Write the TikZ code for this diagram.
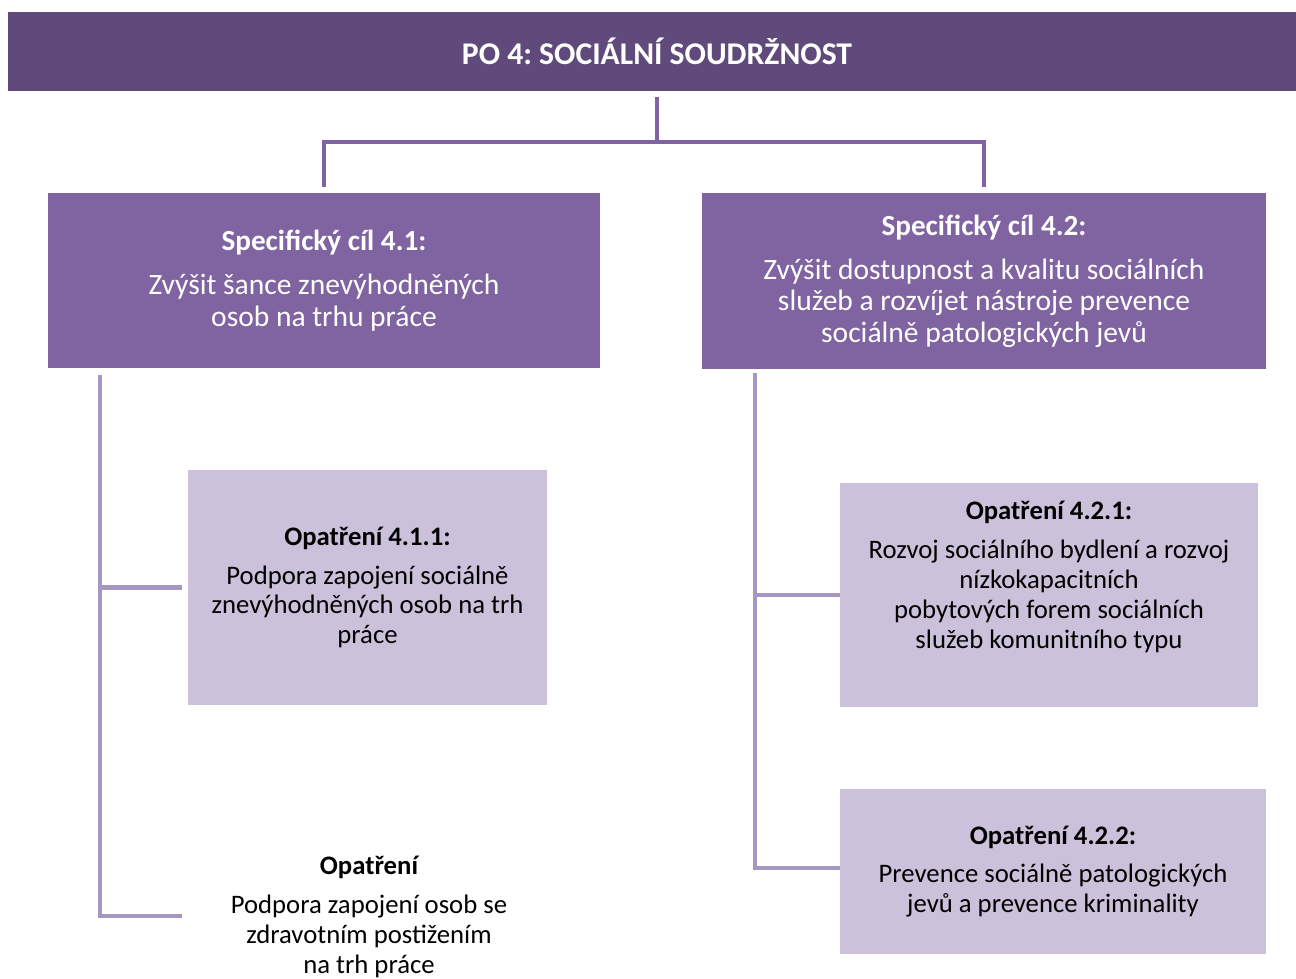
\documentclass[tikz,border=0pt]{standalone}
\usepackage{fontspec}
\setmainfont{Carlito}
\frenchspacing
\definecolor{bannerfill}{HTML}{604A7B}
\definecolor{goalfill}{HTML}{8064A2}
\definecolor{measurefill}{HTML}{CCC1DA}
\definecolor{spinecol}{HTML}{A597C1}
\tikzset{
  bannerbox/.style={fill=bannerfill, text=white, inner sep=0pt, align=center,
    font=\fontsize{18}{20}\selectfont\bfseries},
  goalbox/.style={fill=goalfill, text=white, inner sep=0pt, align=center,
    font=\fontsize{16.8}{18}\selectfont},
  measurebox/.style={fill=measurefill, inner sep=0pt, align=center,
    font=\fontsize{15.2}{17}\selectfont},
  topline/.style={draw=goalfill, line width=2.8pt},
  sideline/.style={draw=spinecol, line width=2.8pt},
}
\newcommand{\goaltitle}[1]{{\fontsize{16.6}{18}\selectfont\bfseries #1}}
\newcommand{\meastitle}[1]{{\fontsize{15.2}{17}\selectfont\bfseries #1}}
\begin{document}
\begin{tikzpicture}[x=0.02cm, y=-0.02cm]
  \useasboundingbox (0,0) rectangle (1296,978);
  %priorita
  \node[bannerbox, minimum width=25.98cm, minimum height=1.58cm] (po4) at (657,51.5) {PO 4: SOCIÁLNÍ SOUDRŽNOST};
  %cile
  \node[goalbox, minimum width=11.04cm, minimum height=3.5cm] (g41) at (324,280.5)
    {\goaltitle{Specifický cíl 4.1:}\\[7pt]
     Zvýšit šance znevýhodněných\\ osob na trhu práce};
  \node[goalbox, minimum width=11.28cm, minimum height=3.52cm] (g42) at (984,281)
    {\goaltitle{Specifický cíl 4.2:}\\[7pt]
     Zvýšit dostupnost a kvalitu sociálních\\ služeb a rozvíjet nástroje prevence\\ sociálně patologických jevů};
  %opatreni
  \node[measurebox, minimum width=7.18cm, minimum height=4.7cm] (m411) at (367.5,587.5)
    {\meastitle{Opatření 4.1.1:}\\[5pt] Podpora zapojení sociálně\\ znevýhodněných osob na trh\\ práce};
  \node[align=center, inner sep=0pt, font=\fontsize{15.2}{17}\selectfont] (m412) at (369,917)
    {\meastitle{Opatření}\\[5pt] Podpora zapojení osob se\\ zdravotním postižením\\ na trh práce};
  \node[measurebox, minimum width=8.36cm, minimum height=4.48cm] (m421) at (1049,595)
    {\meastitle{Opatření 4.2.1:}\\[5pt] Rozvoj sociálního bydlení a rozvoj\\ nízkokapacitních\\ pobytových forem sociálních\\ služeb komunitního typu\\[6pt] \mbox{}};
  \node[measurebox, minimum width=8.52cm, minimum height=3.3cm] (m422) at (1053,871.5)
    {\meastitle{Opatření 4.2.2:}\\[5pt] Prevence sociálně patologických\\ jevů a prevence kriminality};
  %spojnice
  \coordinate (fork) at (657,142);
  \draw[topline] ([yshift=-0.12cm]po4.south) -- (fork);
  \draw[topline] ([yshift=0.12cm]g41.north) |- (fork) -| ([yshift=0.12cm]g42.north);
  \coordinate (s41) at (100,375);
  \coordinate (e412) at (182,916);
  \draw[sideline] (s41) |- ([xshift=-0.12cm]m411.west);
  \draw[sideline] (s41) |- (e412);
  \coordinate (s42) at (755,373);
  \draw[sideline] (s42) |- (m421.west);
  \draw[sideline] (s42) |- ([yshift=0.07cm]m422.west);
\end{tikzpicture}
\end{document}
